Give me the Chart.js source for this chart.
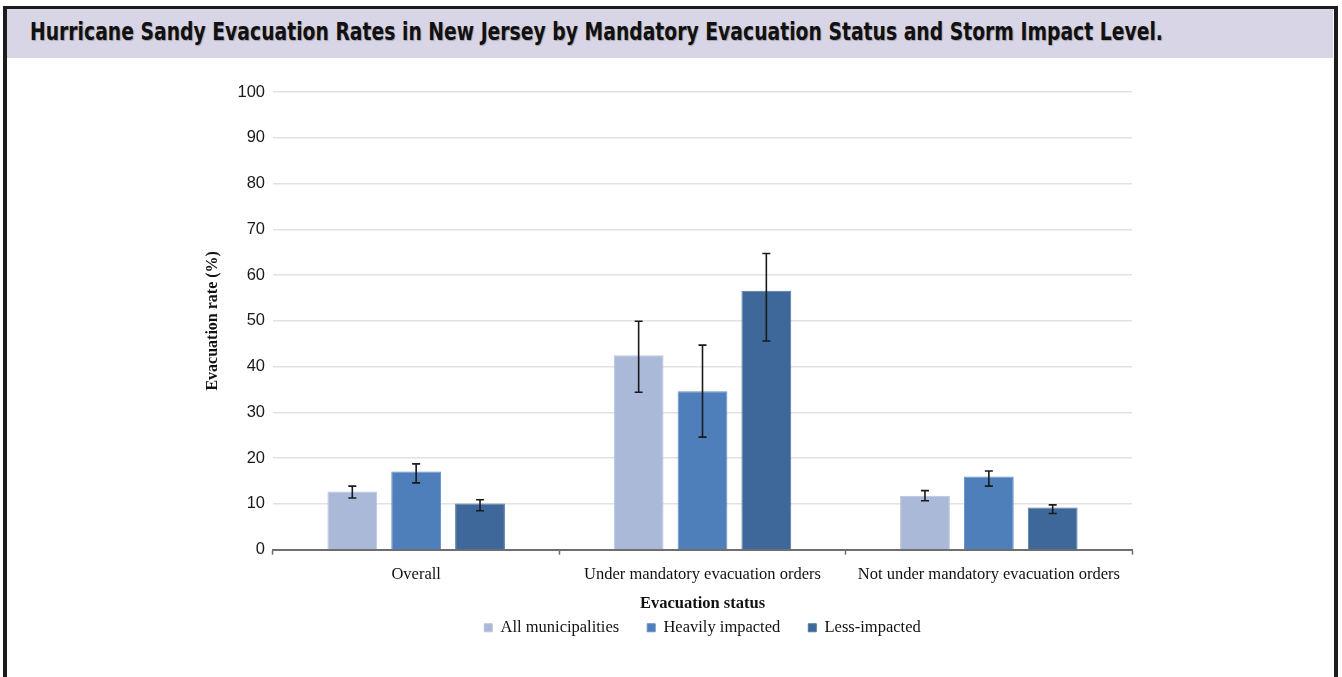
<!DOCTYPE html>
<html>
<head>
<meta charset="utf-8">
<script src="https://cdn.jsdelivr.net/npm/chart.js@4/dist/chart.umd.min.js"></script>
<style>
  html, body { margin: 0; padding: 0; background: #fff; }
  body { width: 1342px; height: 677px; position: relative; overflow: hidden; }
  #frame {
    position: absolute; left: 3px; top: 6px; width: 1327px; height: 700px;
    border: 4px solid #1c1c1c; border-bottom: none; border-top-width: 3px;
  }
  #band {
    position: absolute; left: 7px; top: 9px; width: 1326px; height: 49px;
    background: #d8d6e6;
  }
  #title {
    position: absolute; left: 30px; top: 17px; white-space: nowrap;
    font: bold 25px "Liberation Sans Narrow", "DejaVu Sans Condensed", "Liberation Sans", sans-serif;
    color: #111; transform-origin: 0 0; text-shadow: 1px 1px 1px rgba(0,0,0,0.25);
  }
  #chart { position: absolute; left: 0; top: 0; z-index: 2; }
</style>
</head>
<body>
<div id="frame"></div>
<div id="band"></div>
<div id="title">Hurricane Sandy Evacuation Rates in New Jersey by Mandatory Evacuation Status and Storm Impact Level.</div>
<canvas id="chart" width="1342" height="677"></canvas>
<script>
// data
const categories = ['Overall', 'Under mandatory evacuation orders', 'Not under mandatory evacuation orders'];
const seriesNames = ['All municipalities', 'Heavily impacted', 'Less-impacted'];

const allMunicipalities = [12.7, 42.5, 11.8];
const allLow = [11.3, 34.4, 10.7];
const allHigh = [13.9, 49.9, 12.9];

const heavilyImpacted = [17.1, 34.6, 16.0];
const heavyLow = [14.6, 24.6, 13.9];
const heavyHigh = [18.75, 44.7, 17.2];

const lessImpacted = [10.1, 56.6, 9.2];
const lessLow = [8.5, 45.6, 7.9];
const lessHigh = [10.9, 64.7, 9.8];

const yTicks = [0, 10, 20, 30, 40, 50, 60, 70, 80, 90, 100];

// fit the title to its width in the reference
const title = document.getElementById('title');
const tw = title.getBoundingClientRect().width;
title.style.transform = 'scaleX(' + (1133 / tw) + ')';

const errorBars = {
  id: 'errorBars',
  afterDatasetsDraw(chart) {
    const ctx = chart.ctx;
    const y = chart.scales.y;
    ctx.save();
    ctx.strokeStyle = '#1a1a1a';
    ctx.lineWidth = 1.6;
    chart.data.datasets.forEach((ds, i) => {
      const meta = chart.getDatasetMeta(i);
      meta.data.forEach((bar, j) => {
        const top = y.getPixelForValue(ds.errHigh[j]);
        const bottom = y.getPixelForValue(ds.errLow[j]);
        const x = bar.x;
        ctx.beginPath();
        ctx.moveTo(x, top); ctx.lineTo(x, bottom);
        ctx.moveTo(x - 4, top); ctx.lineTo(x + 4, top);
        ctx.moveTo(x - 4, bottom); ctx.lineTo(x + 4, bottom);
        ctx.stroke();
      });
    });
    ctx.restore();
  }
};

const serif = '"Liberation Serif", "Times New Roman", serif';

new Chart(document.getElementById('chart'), {
  type: 'bar',
  data: {
    labels: categories,
    datasets: [
      { label: seriesNames[0], data: allMunicipalities, errLow: allLow, errHigh: allHigh,
        backgroundColor: '#aab9d8', borderColor: '#b8c5e0', borderWidth: 1 },
      { label: seriesNames[1], data: heavilyImpacted, errLow: heavyLow, errHigh: heavyHigh,
        backgroundColor: '#4e7fbb', borderColor: '#6690c6', borderWidth: 1 },
      { label: seriesNames[2], data: lessImpacted, errLow: lessLow, errHigh: lessHigh,
        backgroundColor: '#3e6899', borderColor: '#52789f', borderWidth: 1 }
    ]
  },
  options: {
    responsive: false,
    devicePixelRatio: 1,
    animation: false,
    categoryPercentage: 0.669,
    barPercentage: 0.78,
    layout: { padding: { left: 200, top: 92, right: 210, bottom: 31 } },
    plugins: {
      tooltip: { enabled: false },
      legend: {
        position: 'bottom',
        fullSize: false,
        title: {
          display: true,
          text: 'Evacuation status',
          color: '#111',
          font: { family: serif, size: 16.5, weight: 'bold' },
          padding: { top: 2, bottom: -24 }
        },
        labels: {
          boxWidth: 8,
          boxHeight: 8,
          padding: 28,
          color: '#111',
          font: { family: serif, size: 16.5 }
        }
      }
    },
    scales: {
      x: {
        afterFit(scale) { scale.height = 44; },
        border: { display: true, color: '#6e6e6e', width: 2 },
        grid: { drawOnChartArea: false, drawTicks: true, tickLength: 5, tickColor: '#6e6e6e', tickWidth: 1.5 },
        ticks: { color: '#111', padding: 10, font: { family: serif, size: 16.5 } }
      },
      y: {
        min: 0,
        max: 100,
        afterFit(scale) { scale.width = 73; },
        afterBuildTicks(scale) { scale.ticks = yTicks.map(v => ({ value: v })); },
        border: { display: false },
        grid: { color: '#e2e2e2', lineWidth: 1.5, drawTicks: false },
        ticks: { color: '#1a1a1a', padding: 8, font: { family: '"Liberation Sans", Arial, sans-serif', size: 16.5 } },
        title: {
          display: true,
          text: 'Evacuation rate (%)',
          color: '#111',
          font: { family: serif, size: 16, weight: 'bold' },
          padding: { top: 3, bottom: 4 }
        }
      }
    }
  },
  plugins: [errorBars]
});
</script>
</body>
</html>
